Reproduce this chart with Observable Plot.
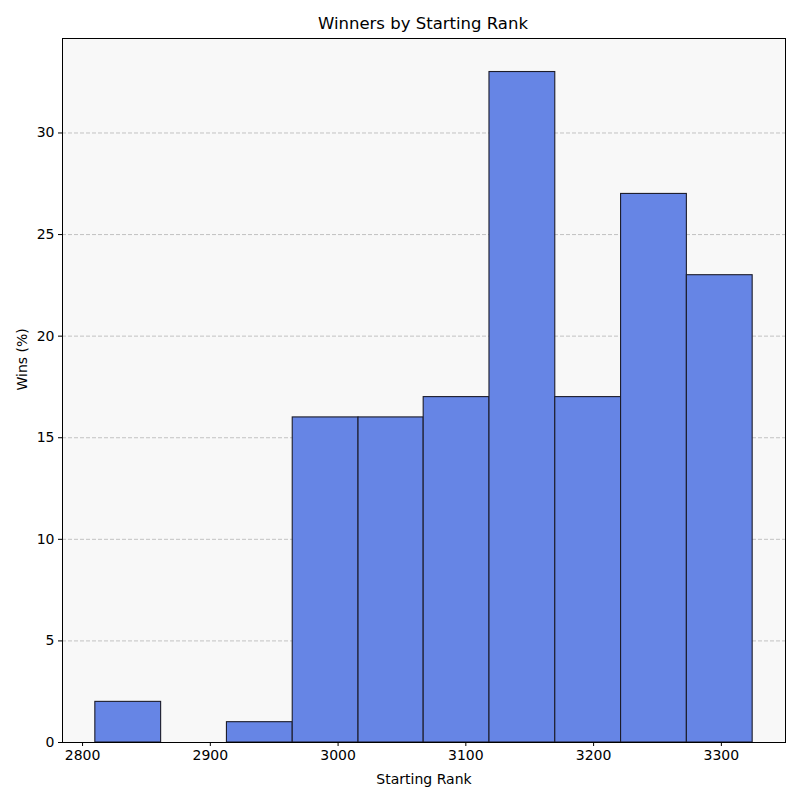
<!DOCTYPE html>
<html>
<head>
<meta charset="utf-8">
<script src="https://cdn.jsdelivr.net/npm/d3@7"></script>
<script src="https://cdn.jsdelivr.net/npm/@observablehq/plot@0.6"></script>
<style>
  body { margin: 0; background: #fff; font-family: "DejaVu Sans", sans-serif; }
  #title { height: 38px; line-height: 47px; text-align: center; font-size: 16.5px; color: #000; width: 800px; padding-left: 46px; box-sizing: border-box; }
</style>
</head>
<body>
<div id="title">Winners by Starting Rank</div>
<div id="chart"></div>
<script>
// bin edges (Starting Rank)
var binEdges = [2810, 2861.5, 2913, 2964.5, 3016, 3067, 3118.5, 3170, 3221.5, 3273, 3324.5];
// winners per bin
var wins = [2, 0, 1, 16, 16, 17, 33, 17, 27, 23];
var xTicks = [2800, 2900, 3000, 3100, 3200, 3300];
var yTicks = [0, 5, 10, 15, 20, 25, 30];

var bins = wins.map(function (w, i) {
    return { x1: binEdges[i], x2: binEdges[i + 1], wins: w };
});

var chart = Plot.plot({
    width: 800,
    height: 762,
    marginTop: 0,
    marginLeft: 62,
    marginRight: 15,
    marginBottom: 58,
    style: { fontFamily: "DejaVu Sans, sans-serif", fontSize: "14px", color: "#000", background: "#fff" },
    x: { domain: [2784.3, 3350.2], label: null },
    y: { domain: [0, 34.65], label: null },
    marks: [
        Plot.frame({ fill: "#f8f8f8", stroke: null }),
        Plot.gridY(yTicks.slice(1), { stroke: "#c2c2c2", strokeOpacity: 1, strokeDasharray: "4,2", strokeWidth: 1 }),
        Plot.rectY(bins, { x1: "x1", x2: "x2", y: "wins", fill: "#6685e5", stroke: "#1c1c2a", strokeWidth: 1.1 }),
        Plot.frame({ stroke: "#000", strokeWidth: 1 }),
        Plot.axisX({ ticks: xTicks, tickFormat: d => String(d), tickSize: 4, tickPadding: 4, label: null, fontSize: 14 }),
        Plot.axisY({ ticks: yTicks, tickFormat: d => String(d), tickSize: 4, tickPadding: 4, label: null, fontSize: 14 }),
        Plot.text(["Starting Rank"], { frameAnchor: "bottom", dy: 41, fontSize: 14 }),
        Plot.text(["Wins (%)"], { frameAnchor: "left", dx: -40, rotate: -90, fontSize: 14 })
    ]
});

document.getElementById("chart").appendChild(chart);
</script>
</body>
</html>
